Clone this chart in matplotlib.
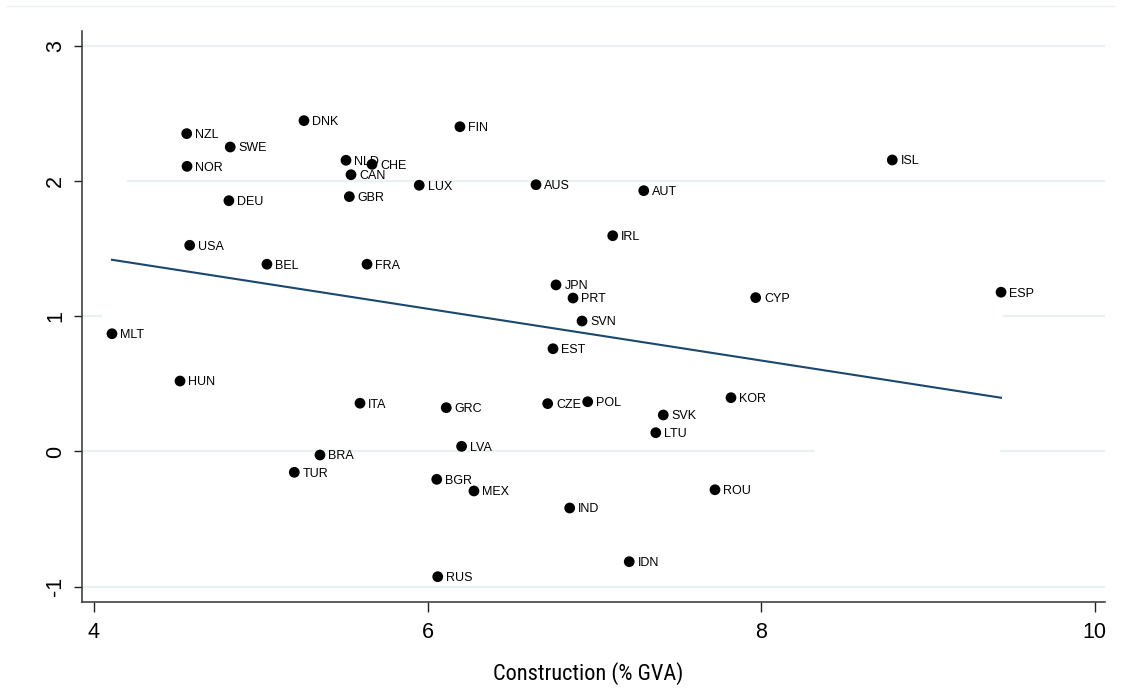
import numpy as np
import matplotlib
matplotlib.use("Agg")
from matplotlib import pyplot as plt
from matplotlib import font_manager
from matplotlib.lines import Line2D

# country codes, construction share (% GVA) and y value
countries = ["NZL", "DNK", "FIN", "SWE", "NOR", "NLD", "CHE", "CAN", "LUX", "GBR",
             "DEU", "USA", "BEL", "FRA", "AUS", "AUT", "IRL", "JPN", "PRT", "SVN",
             "EST", "GRC", "CZE", "POL", "KOR", "SVK", "LTU", "LVA", "BGR", "MEX",
             "ROU", "IND", "IDN", "RUS", "MLT", "HUN", "ITA", "BRA", "TUR", "ISL",
             "CYP", "ESP"]
construction = [4.556, 5.259, 6.194, 4.817, 4.558, 5.511, 5.667, 5.541, 5.950, 5.531,
                4.809, 4.574, 5.037, 5.637, 6.650, 7.296, 7.110, 6.770, 6.872, 6.926,
                6.752, 6.112, 6.720, 6.960, 7.819, 7.413, 7.368, 6.204, 6.055, 6.278,
                7.723, 6.852, 7.209, 6.061, 4.108, 4.516, 5.595, 5.355, 5.201, 8.786,
                7.967, 9.438]
yvalue = [2.351, 2.447, 2.402, 2.252, 2.109, 2.154, 2.124, 2.047, 1.969, 1.885,
          1.855, 1.525, 1.385, 1.385, 1.973, 1.929, 1.596, 1.232, 1.135, 0.965,
          0.760, 0.324, 0.354, 0.368, 0.398, 0.270, 0.139, 0.038, -0.206, -0.292,
          -0.283, -0.418, -0.815, -0.926, 0.871, 0.521, 0.357, -0.026, -0.154, 2.156,
          1.138, 1.178]

x_ticks = [4, 6, 8, 10]
y_ticks = [-1, 0, 1, 2, 3]

# visible pieces of the pale gridlines (parts are masked in the original)
grid_segments = [(3, 3.93, 10.06), (2, 4.20, 10.06), (1, 3.93, 4.05), (1, 9.45, 10.06),
                 (0, 3.93, 8.32), (0, 9.43, 10.06), (-1, 3.93, 10.06)]

plt.rcParams["font.family"] = ["Liberation Sans", "DejaVu Sans"]

# pick a condensed face for the axis title if one is installed
installed = {f.name for f in font_manager.fontManager.ttflist}
narrow = None
for cand in ["Liberation Sans Narrow", "Arial Narrow", "Roboto Condensed",
             "Open Sans Condensed", "DejaVu Sans Condensed"]:
    if cand in installed:
        narrow = cand
        break
narrow_stretch = "normal"
if narrow is None:
    # try a condensed-width file within an installed family
    for f in font_manager.fontManager.ttflist:
        if f.name in ("Roboto", "Open Sans", "Noto Sans", "Inter") and \
                str(f.stretch) in ("condensed", "semi-condensed", "75", "87"):
            narrow = f.name
            narrow_stretch = f.stretch
            break
title_size = 16.1
if narrow is None:
    narrow = "Liberation Sans"
    title_size = 15.0

fig = plt.figure(figsize=(11.21, 6.92), dpi=100)
ax = fig.add_axes([0.0734, 0.1301, 0.9123, 0.8251])

grid_col = "#e9f1f2"
for yy, x0, x1 in grid_segments:
    ax.hlines(yy, x0, x1, color=grid_col, lw=1.6, zorder=0)

# points + labels
x = np.array(construction)
y = np.array(yvalue)
ax.scatter(x, y, s=60, color="black", edgecolors="none", zorder=3)
for name, xi, yi in zip(countries, x, y):
    ax.annotate(name, xy=(xi, yi), xytext=(6, -1), textcoords="offset points",
                ha="left", va="center", fontsize=9, color="black", zorder=4)

# linear fit
b, a = np.polyfit(x, y, 1)
xf = np.array([x.min(), x.max()])
ax.plot(xf, a + b * xf, color="#1a476f", lw=1.5, zorder=2)

ax.set_xlim(3.930, 10.061)
ax.set_ylim(-1.113, 3.110)
ax.set_xticks(x_ticks)
ax.set_yticks(y_ticks)
ax.set_xticklabels([str(t) for t in x_ticks], fontsize=15.5)
ax.set_yticklabels([str(t) for t in y_ticks], fontsize=15.5, rotation=90, va="center")
ax.tick_params(axis="x", length=7.2, width=1.0, pad=7, color="#222222")
ax.tick_params(axis="y", length=5.5, width=1.0, pad=6, color="#222222")

for s in ["top", "right"]:
    ax.spines[s].set_visible(False)
for s in ["left", "bottom"]:
    ax.spines[s].set_linewidth(1.1)
    ax.spines[s].set_color("#333333")

ax.set_xlabel("Construction (% GVA)", fontsize=title_size,
              family=[narrow, "Liberation Sans"], fontstretch=narrow_stretch)
ax.xaxis.set_label_coords(0.4945, -0.126)
ax.xaxis.label.set_va("center")

# faint frame line at the very top
fig.add_artist(Line2D([6 / 1121, 1115 / 1121], [1 - 6 / 692, 1 - 6 / 692],
                      transform=fig.transFigure, color="#edf2f2", lw=1.0))

fig.savefig("out.png", dpi=100)
